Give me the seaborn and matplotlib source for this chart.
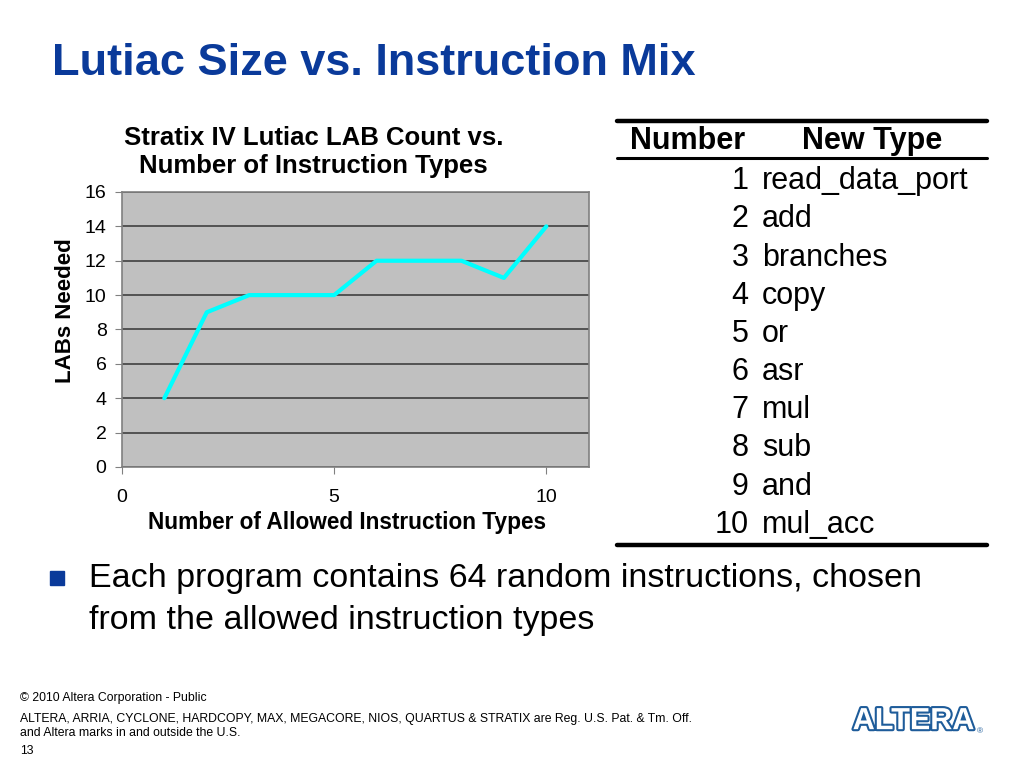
import matplotlib
matplotlib.use("Agg")
import matplotlib.pyplot as plt
import matplotlib.patheffects as pe
from matplotlib.lines import Line2D
from matplotlib.patches import Rectangle
import seaborn as sns
import pandas as pd

# data
num_types = [1, 2, 3, 4, 5, 6, 7, 8, 9, 10]
labs_needed = [4, 9, 10, 10, 10, 12, 12, 12, 11, 14]
new_types = ["read_data_port", "add", "branches", "copy", "or",
             "asr", "mul", "sub", "and", "mul_acc"]
x_ticks = [0, 5, 10]
y_ticks = [0, 2, 4, 6, 8, 10, 12, 14, 16]

df = pd.DataFrame({"types": num_types, "labs": labs_needed})

sns.set_style("white")
plt.rcParams["font.family"] = ["Liberation Sans", "DejaVu Sans"]
plt.rcParams["text.color"] = "black"
plt.rcParams["axes.labelcolor"] = "black"
plt.rcParams["xtick.color"] = "black"
plt.rcParams["ytick.color"] = "black"

fig = plt.figure(figsize=(10.24, 7.68), dpi=100)
fig.patch.set_facecolor("white")

# slide title
fig.text(0.051, 0.917, "Lutiac Size vs. Instruction Mix", fontsize=32.5,
         fontweight="bold", color="#0A3A9A", va="center", ha="left")

# chart
ax = fig.add_axes([0.119, 0.392, 0.456, 0.358])
ax.set_facecolor("#C0C0C0")
sns.lineplot(data=df, x="types", y="labs", color="#00FFFF", linewidth=3, ax=ax)
ax.set_xlim(0, 11)
ax.set_ylim(0, 16)
ax.set_xticks(x_ticks)
ax.set_yticks(y_ticks)
ax.yaxis.grid(True, color="#4A4A4A", linewidth=1.3)
ax.xaxis.grid(False)
ax.set_axisbelow(True)
for s in ax.spines.values():
    s.set_color("#808080")
    s.set_linewidth(1.2)
ax.tick_params(axis="both", labelsize=14, labelcolor="black", length=5,
               direction="out", color="#808080", left=True, bottom=True)
ax.tick_params(axis="x", pad=11)
ax.tick_params(axis="y", pad=6)
ax.set_xlabel("Number of Allowed Instruction Types", fontsize=16.3,
              fontweight="bold")
ax.xaxis.set_label_coords(0.482, -0.162)
ax.set_ylabel("LABs Needed", fontsize=16, fontweight="bold")
ax.yaxis.set_label_coords(-0.098, 0.57)
ax.set_title("Stratix IV Lutiac LAB Count vs.\nNumber of Instruction Types",
             fontsize=18.5, fontweight="bold", pad=14, x=0.41,
             linespacing=1.2)

# table
fig.add_artist(Line2D([0.603, 0.964], [0.842, 0.842], color="black", linewidth=3.2))
fig.add_artist(Line2D([0.603, 0.964], [0.794, 0.794], color="black", linewidth=2.2))
fig.add_artist(Line2D([0.603, 0.964], [0.290, 0.290], color="black", linewidth=3.2))
fig.text(0.671, 0.816, "Number", fontsize=22, fontweight="bold", ha="center", va="center")
fig.text(0.852, 0.816, "New Type", fontsize=22, fontweight="bold", ha="center", va="center")
row_y0 = 0.764
row_step = 0.0497
for i, (n, t) in enumerate(zip(num_types, new_types)):
    y = row_y0 - i * row_step
    fig.text(0.731, y, str(n), fontsize=22, ha="right", va="center")
    fig.text(0.744, y, t, fontsize=22, ha="left", va="center")

# bullet
fig.add_artist(Rectangle((0.049, 0.238), 0.0135, 0.018, color="#0A3A9A",
                         transform=fig.transFigure))
fig.text(0.087, 0.247, "Each program contains 64 random instructions, chosen",
         fontsize=24.5, ha="left", va="center")
fig.text(0.087, 0.192, "from the allowed instruction types",
         fontsize=24.5, ha="left", va="center")

# footer
fig.text(0.020, 0.091, "\u00a9 2010 Altera Corporation - Public", fontsize=8.8,
         ha="left", va="center")
fig.text(0.020, 0.064, "ALTERA, ARRIA, CYCLONE, HARDCOPY, MAX, MEGACORE, NIOS, "
         "QUARTUS & STRATIX are Reg. U.S. Pat. & Tm. Off.", fontsize=8.8,
         ha="left", va="center")
fig.text(0.020, 0.045, "and Altera marks in and outside the U.S.", fontsize=8.8,
         ha="left", va="center")
fig.text(0.020, 0.022, "13", fontsize=8.8, ha="left", va="center")

logo = fig.text(0.892, 0.061, "ALTERA", fontsize=22, fontweight="bold",
                ha="center", va="center", color="white")
logo.set_path_effects([pe.Stroke(linewidth=3, foreground="#1E5C9A"), pe.Normal()])
fig.text(0.957, 0.047, "\u00ae", fontsize=6, color="#1E5C9A", ha="center", va="center")

fig.savefig("out.png", dpi=100)
